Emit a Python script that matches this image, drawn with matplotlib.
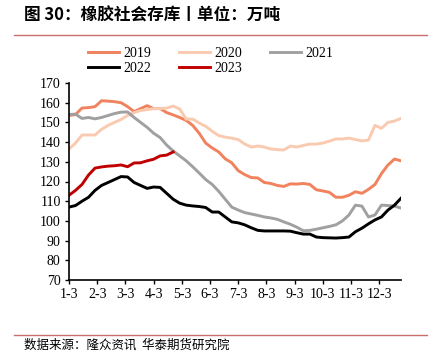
import matplotlib
matplotlib.use("Agg")
import matplotlib.pyplot as plt
import numpy as np

months = ["1-3", "2-3", "3-3", "4-3", "5-3", "6-3", "7-3", "8-3", "9-3", "10-3", "11-3", "12-3"]

s2019 = [153.5, 154, 157.3, 157.5, 158, 161, 160.8, 160.5, 160, 158, 155.5, 157, 158.5, 157, 157,
         155, 153.8, 152.5, 151, 148.5, 144.5, 139.5, 137, 135, 131.5, 129.5, 125.5, 123.5, 122,
         121.8, 119.5, 119, 118, 117.5, 118.8, 118.7, 119, 118.5, 115.8, 115.2, 114.5, 112, 112,
         113, 114.8, 114, 116, 118.5, 124, 128.4, 131.4, 130.5]
s2020 = [136.5, 139.5, 143.6, 143.6, 143.6, 146.5, 148.5, 150, 151.5, 153.5, 155, 156, 156.5, 157,
         157, 157.3, 158.3, 156.8, 151.7, 151.7, 149.7, 148, 145.5, 143.3, 142.5, 142, 141.3, 139,
         137.5, 138, 137.5, 136.5, 136.2, 136, 138, 137.5, 138.3, 139, 139, 139.5, 140.5, 141.6,
         141.6, 142, 141.3, 140.6, 141, 148.5, 147, 150, 150.7, 152]
s2021 = [154, 154.2, 152, 152.5, 151.8, 152.5, 153.5, 154.5, 155.2, 155.3, 152.5, 150, 147.5, 144.5,
         142.3, 138.5, 135.5, 133, 130.5, 127.5, 124.3, 121, 118.5, 115, 111, 107, 105.5, 104.2,
         103.5, 102.8, 102, 101.5, 100.8, 99.5, 98.3, 96.8, 95, 95.2, 95.8, 96.5, 97.2, 98, 100,
         103, 108, 107.5, 102, 103, 108, 107.8, 107.5, 106.5]
s2022 = [107, 107.8, 110, 112, 115.5, 118, 119.5, 121, 122.5, 122.3, 119.5, 118, 116.5, 117.2, 117,
         114, 111, 109, 108, 107.6, 107.3, 106.8, 104.5, 104.5, 102, 99.5, 99, 98, 96.5, 95.2, 94.9,
         94.9, 94.9, 94.9, 94.8, 94, 93.3, 93.3, 91.8, 91.5, 91.4, 91.3, 91.5, 91.8, 94.5, 96.3,
         98.5, 100.5, 102, 105.5, 108, 111.5]
s2023 = [113, 115.5, 118.5, 123.3, 126.8, 127.4, 127.8, 128, 128.4, 127.5, 129.4, 129.5, 130.5,
         131.3, 133, 133.4, 135]

series = [("2019", s2019, "#F0825E"), ("2020", s2020, "#FACAB0"), ("2021", s2021, "#A0A0A0"),
          ("2022", s2022, "#000000"), ("2023", s2023, "#C00000")]

serif = ["Liberation Serif", "DejaVu Serif"]
cjk = ["Noto Sans CJK SC", "DejaVu Sans"]

fig = plt.figure(figsize=(4.37, 3.54), dpi=100)
ax = fig.add_axes([69 / 437, 1 - 280 / 354, (401 - 69) / 437, (280 - 83) / 354])

lines = {}
for name, vals, col in series:
    lines[name], = ax.plot(np.arange(len(vals)), vals, color=col, lw=2.1, label=name,
                           solid_joinstyle="round")

ax.set_xlim(0, 51)
ax.set_ylim(70, 170)
ax.set_yticks(np.arange(70, 171, 10))
ax.set_xticks(np.arange(12) * 52 / 12)
ax.set_xticklabels(months)
for sp in ["top", "right"]:
    ax.spines[sp].set_visible(False)
for sp in ["left", "bottom"]:
    ax.spines[sp].set_linewidth(1.2)
ax.tick_params(direction="out", length=3, width=1, pad=3)
for lab in ax.get_xticklabels() + ax.get_yticklabels():
    lab.set_family(serif)
    lab.set_fontsize(10)

order = ["2019", "2022", "2020", "2023", "2021"]
leg = fig.legend([lines[k] for k in order], order, loc="upper left",
                 bbox_to_anchor=(88 / 437, 1 - 47 / 354), ncol=3, frameon=False,
                 handlelength=2.2, handletextpad=0.35, columnspacing=2.0, labelspacing=0.15,
                 prop={"family": serif, "size": 10}, borderaxespad=0, borderpad=0)

fig.text(24 / 437, 1 - 16 / 354, "图 30：橡胶社会存库丨单位：万吨", family=cjk, fontsize=12,
         fontweight="bold", va="center", ha="left")
fig.add_artist(plt.Line2D([14 / 437, 427 / 437], [1 - 35 / 354] * 2, color="#C9706F", lw=1))
fig.add_artist(plt.Line2D([14 / 437, 427 / 437], [1 - 335 / 354] * 2, color="#C9706F", lw=1))
fig.text(24 / 437, 1 - 345 / 354, "数据来源：隆众资讯  华泰期货研究院", family=cjk, fontsize=9,
         va="center", ha="left")

fig.savefig("out.png", dpi=100)
